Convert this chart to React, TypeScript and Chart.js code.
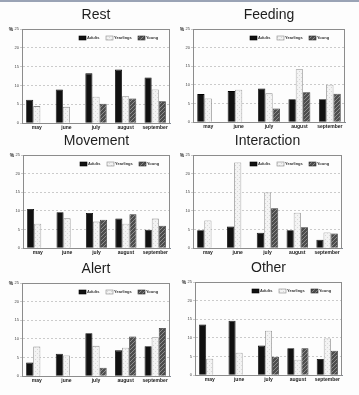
import React, { useEffect, useRef } from 'react';
import { Chart, registerables } from 'chart.js';
Chart.register(...registerables);

const months = ['may', 'june', 'july', 'august', 'september'];
const seriesNames = ['Adults', 'Yearlings', 'Young'];
const yMax = 25;
const yStep = 5;

const restAdults = [6.2, 8.9, 13.2, 14.2, 12.1];
const restYearlings = [4.5, 4.3, 7.0, 7.1, 8.9];
const restYoung = [null, null, 5.1, 6.5, 5.8];

const feedingAdults = [7.5, 8.3, 9.0, 6.1, 6.1];
const feedingYearlings = [6.3, 8.7, 7.7, 14.2, 10.0];
const feedingYoung = [null, null, 3.6, 8.0, 7.6];

const movementAdults = [10.5, 9.6, 9.4, 7.9, 4.9];
const movementYearlings = [6.5, 8.0, 7.1, 6.5, 7.9];
const movementYoung = [null, null, 7.6, 9.1, 6.0];

const interactionAdults = [4.8, 5.8, 4.1, 4.8, 2.2];
const interactionYearlings = [7.4, 23.0, 14.9, 9.5, 4.2];
const interactionYoung = [null, null, 10.7, 5.6, 3.9];

const alertAdults = [3.6, 6.0, 11.5, 6.9, 8.0];
const alertYearlings = [7.9, 5.5, 8.1, 7.6, 10.4];
const alertYoung = [null, null, 2.2, 10.6, 12.9];

const otherAdults = [13.6, 14.6, 7.9, 7.2, 4.3];
const otherYearlings = [4.4, 6.0, 11.9, 4.1, 9.8];
const otherYoung = [null, null, 4.9, 7.2, 6.5];

type Panel = {
  title: string;
  series: (number | null)[][];
  col: number;
  row: number;
  box: { l: number; t: number; r: number; b: number };
};

const panels: Panel[] = [
  { title: 'Rest', series: [restAdults, restYearlings, restYoung], col: 0, row: 0, box: { l: 22, t: 29, r: 170, b: 123 } },
  { title: 'Feeding', series: [feedingAdults, feedingYearlings, feedingYoung], col: 1, row: 0, box: { l: 193, t: 29, r: 345, b: 122 } },
  { title: 'Movement', series: [movementAdults, movementYearlings, movementYoung], col: 0, row: 1, box: { l: 23, t: 155, r: 170, b: 248 } },
  { title: 'Interaction', series: [interactionAdults, interactionYearlings, interactionYoung], col: 1, row: 1, box: { l: 193, t: 155, r: 342, b: 248 } },
  { title: 'Alert', series: [alertAdults, alertYearlings, alertYoung], col: 0, row: 2, box: { l: 22, t: 283, r: 170, b: 376 } },
  { title: 'Other', series: [otherAdults, otherYearlings, otherYoung], col: 1, row: 2, box: { l: 195, t: 282, r: 342, b: 375 } },
];

const colX = [0, 180];
const colW = [180, 179];
const rowY = [0, 130, 260];
const Y_AXIS_W = 10;
const X_AXIS_H = 9;
const BELOW = 16;
const FONT = '"Liberation Sans", Arial, sans-serif';

function makePattern(kind: 'hatch' | 'dots'): CanvasPattern | string {
  const c = document.createElement('canvas');
  c.width = 4;
  c.height = 4;
  const g = c.getContext('2d');
  if (!g) return kind === 'hatch' ? '#555' : '#eee';
  if (kind === 'hatch') {
    g.fillStyle = '#4d4d4d';
    g.fillRect(0, 0, 4, 4);
    g.strokeStyle = '#8c8c8c';
    g.lineWidth = 1;
    g.beginPath();
    g.moveTo(0, 4);
    g.lineTo(4, 0);
    g.moveTo(-1, 1);
    g.lineTo(1, -1);
    g.moveTo(3, 5);
    g.lineTo(5, 3);
    g.stroke();
  } else {
    g.fillStyle = '#f3f3f3';
    g.fillRect(0, 0, 4, 4);
    g.fillStyle = '#d8d8d8';
    g.fillRect(1, 1, 1, 1);
    g.fillRect(3, 3, 1, 1);
  }
  return g.createPattern(c, 'repeat') || '#eee';
}

function PanelChart({ p }: { p: Panel }) {
  const ref = useRef<HTMLCanvasElement>(null);
  const x0 = colX[p.col];
  const w = colW[p.col];
  const y0 = rowY[p.row];
  const h = p.box.b - y0 + BELOW;

  useEffect(() => {
    if (!ref.current) return;
    const hatch = makePattern('hatch');
    const dots = makePattern('dots');
    const fills = ['#111111', dots, hatch];
    const borders = ['#000000', '#8a8a8a', '#2e2e2e'];

    const decor = {
      id: 'decor',
      afterDraw(chart: any) {
        const { ctx, chartArea: a } = chart;
        ctx.save();
        ctx.strokeStyle = '#8c8c8c';
        ctx.lineWidth = 1;
        ctx.strokeRect(a.left + 0.5, a.top + 0.5, a.right - a.left - 1, a.bottom - a.top);
        ctx.fillStyle = '#1e1e1e';
        ctx.font = '14px ' + FONT;
        ctx.textAlign = 'center';
        ctx.textBaseline = 'middle';
        ctx.fillText(p.title, (a.left + a.right) / 2, a.top - 13.5);
        ctx.font = 'bold 5px ' + FONT;
        ctx.fillText('%', a.left - 11, a.top + 1);
        const lx = a.left + 57;
        const ly = a.top + 9;
        const offs = [0, 27, 59];
        ctx.font = 'bold 4px ' + FONT;
        ctx.textAlign = 'left';
        seriesNames.forEach((name, i) => {
          const bx = lx + offs[i];
          ctx.fillStyle = fills[i] as any;
          ctx.fillRect(bx, ly - 2, 7, 4);
          ctx.strokeStyle = borders[i];
          ctx.lineWidth = 0.6;
          ctx.strokeRect(bx, ly - 2, 7, 4);
          ctx.fillStyle = '#333';
          ctx.fillText(name, bx + 8, ly);
        });
        ctx.restore();
      },
    };

    const chart = new Chart(ref.current, {
      type: 'bar',
      data: {
        labels: months,
        datasets: p.series.map((d, i) => ({
          label: seriesNames[i],
          data: d,
          backgroundColor: fills[i] as any,
          borderColor: borders[i],
          borderWidth: 0.8,
          categoryPercentage: 0.72,
          barPercentage: 1.0,
        })),
      },
      options: {
        animation: false,
        responsive: false,
        maintainAspectRatio: false,
        layout: {
          padding: {
            left: p.box.l - x0 - Y_AXIS_W,
            right: x0 + w - p.box.r,
            top: p.box.t - y0,
            bottom: BELOW - X_AXIS_H,
          },
        },
        plugins: {
          legend: { display: false },
          title: { display: false },
          tooltip: { enabled: false },
        },
        scales: {
          x: {
            grid: { display: false, drawTicks: false },
            border: { display: true, color: '#7f8a99', width: 1 },
            ticks: {
              display: true,
              color: '#1a1a1a',
              font: { size: 5, weight: 'bold', family: FONT },
              padding: 2,
              maxRotation: 0,
              minRotation: 0,
              autoSkip: false,
            },
            afterFit(scale: any) {
              scale.height = X_AXIS_H;
            },
          },
          y: {
            min: 0,
            max: yMax,
            grid: { color: '#b5b5b5', lineWidth: 0.7, drawTicks: true, tickLength: 2 },
            border: { display: true, color: '#8c8c8c', width: 1, dash: [2, 2] },
            ticks: {
              stepSize: yStep,
              color: '#444',
              font: { size: 4, family: FONT },
              padding: 1,
            },
            afterFit(scale: any) {
              scale.width = Y_AXIS_W;
            },
          },
        },
      },
      plugins: [decor],
    } as any);
    return () => chart.destroy();
  }, []);

  return (
    <canvas
      ref={ref}
      width={w}
      height={h}
      style={{ position: 'absolute', left: x0, top: y0, width: w, height: h }}
    />
  );
}

export default function App() {
  useEffect(() => {
    document.body.style.margin = '0';
    document.body.style.background = '#ffffff';
  }, []);
  return (
    <div style={{ position: 'absolute', left: 0, top: 0, width: 359, height: 395, background: '#fdfdfd', overflow: 'hidden' }}>
      <div style={{ position: 'absolute', left: 0, top: 0, width: 359, height: 2, background: '#9aa3b5' }} />
      {panels.map((p) => (
        <PanelChart key={p.title} p={p} />
      ))}
    </div>
  );
}
